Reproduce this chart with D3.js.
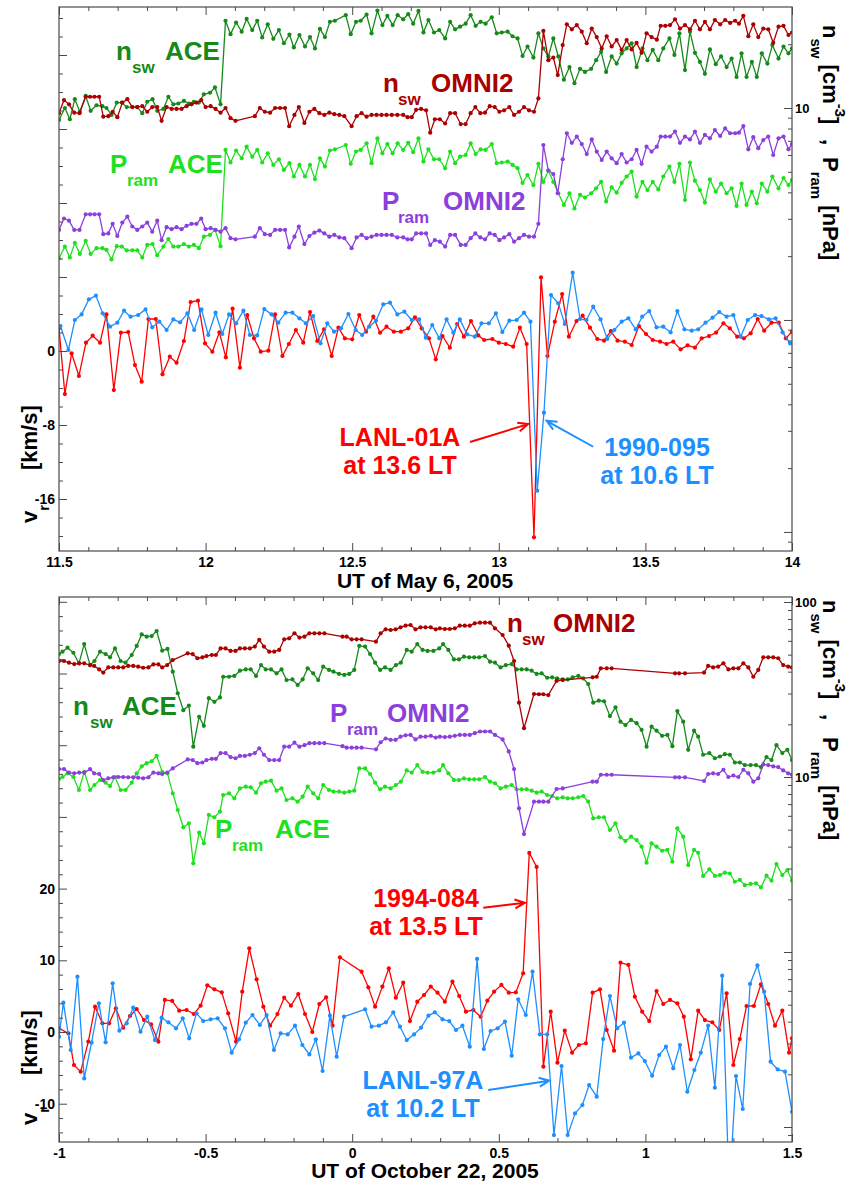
<!DOCTYPE html>
<html>
<head>
<meta charset="utf-8">
<script src="https://cdn.jsdelivr.net/npm/d3@7"></script>
<style>
  body { margin: 0; background: #fff; }
  svg { display: block; }
  text { font-family: "Liberation Sans", Arial, Helvetica, sans-serif; font-weight: bold; }
</style>
</head>
<body>
<svg id="chart" width="848" height="1186"></svg>
<script>
// ---------------- May 6, 2005 (upper panel) ----------------
const aceTimeMay = [11.500,11.520,11.537,11.554,11.571,11.591,11.608,11.628,11.648,11.662,
11.679,11.697,11.714,11.731,11.750,11.767,11.784,11.801,11.819,11.835,
11.856,11.873,11.890,11.907,11.926,11.943,11.960,11.977,11.994,12.015,
12.032,12.051,12.068,12.085,12.104,12.123,12.140,12.159,12.176,12.193,
12.212,12.231,12.250,12.267,12.286,12.301,12.320,12.339,12.356,12.373,
12.390,12.407,12.424,12.441,12.478,12.495,12.513,12.529,12.549,12.566,
12.586,12.603,12.620,12.638,12.655,12.674,12.691,12.708,12.726,12.743,
12.760,12.779,
12.797,12.817,12.834,12.851,12.868,12.887,12.904,12.921,12.938,12.955,
12.976,12.993,13.010,13.030,13.047,13.064,13.081,13.098,13.118,13.135,
13.152,13.169,13.186,13.203,13.222,13.241,13.258,13.277,13.294,13.315,
13.332,13.349,13.366,13.385,13.402,13.419,13.436,13.453,13.470,13.490,
13.507,13.525,13.544,13.561,13.582,13.599,13.616,13.635,13.652,13.669,
13.686,13.703,13.720,13.740,13.758,13.777,13.794,13.811,13.828,13.845,
13.863,13.880,13.897,13.916,13.933,13.954,13.971,13.988,14.000];

const nswAceMay = [8.78,10.0,8.85,11.0,9.6,11.4,9.7,10.3,10.2,10.0,
9.27,10.6,10.6,10.1,10.1,10.1,9.45,10.7,11.0,9.7,
9.9,11.3,10.4,10.5,10.8,10.5,10.7,10.6,11.6,11.8,
12.5,10.4,25.8,22.3,25.3,22.9,26.3,23.3,25.8,21.5,
24.8,21.2,23.3,20.2,22.2,19.3,22.1,19.5,21.6,19.1,
23.6,21.6,25.5,25.8,27.4,22.3,25.5,25.8,27.6,22.5,
28.8,24.6,27.2,24.6,27.4,26.2,27.7,25.0,28.7,22.7,
26.0,22.7,
23.3,21.3,25.5,23.5,24.2,25.0,27.4,24.4,25.5,25.0,
26.8,22.5,22.7,22.9,21.8,21.3,17.6,19.5,17.3,22.5,
19.1,17.5,21.3,17.5,13.6,15.6,13.1,15.3,14.8,15.3,
16.8,18.4,14.8,17.5,16.2,18.1,19.1,20.2,15.6,19.1,
16.8,18.8,16.8,19.1,21.3,17.8,22.5,15.1,22.9,18.2,
16.5,14.5,18.9,16.1,17.5,15.6,17.1,14.0,18.1,14.0,
16.5,14.0,18.1,16.2,19.8,17.1,19.5,18.1,19.1];

const pramAceMay = [1.95,2.22,1.97,2.31,2.05,2.36,2.05,2.18,2.18,2.14,
1.93,2.23,2.22,2.13,2.13,2.13,1.97,2.26,2.28,2.02,
2.22,2.41,2.22,2.22,2.28,2.22,2.26,2.18,2.47,2.52,
2.66,2.23,6.34,5.53,6.30,5.79,6.57,5.89,6.34,5.53,
6.11,5.39,5.73,5.10,5.49,4.75,5.39,4.75,5.39,4.62,
5.79,5.29,6.30,6.38,6.69,5.45,6.23,6.34,6.81,5.49,
7.19,6.11,6.76,6.11,6.81,6.34,6.85,6.19,7.19,5.59,
6.38,5.73,
5.73,5.20,6.23,5.49,5.89,6.00,6.81,6.06,6.38,6.34,
6.76,5.49,5.53,5.59,5.39,5.20,4.43,4.83,4.33,5.45,
4.48,5.07,4.48,3.96,3.49,3.96,3.36,3.89,3.78,3.96,
4.18,4.48,3.62,4.22,3.99,4.43,4.75,5.01,3.82,4.48,
4.10,4.48,4.13,4.75,5.29,4.48,5.45,3.68,5.53,4.54,
4.10,3.58,4.60,4.03,4.40,3.96,4.18,3.45,4.40,3.49,
4.03,3.55,4.40,4.03,4.75,4.18,4.67,4.33,4.57];

const omniTimeMay = [11.500,11.517,11.534,11.552,11.570,11.591,11.606,11.621,11.637,11.651,
11.668,11.683,11.699,11.716,11.733,11.750,11.767,11.784,11.801,11.818,
11.835,11.850,11.867,11.884,11.901,11.918,11.935,11.952,11.969,11.985,
12.000,12.017,12.034,12.051,12.068,12.085,12.102,12.168,12.185,12.202,
12.220,12.237,12.254,12.271,12.285,12.303,12.318,12.337,12.354,12.371,
12.388,12.405,12.422,12.439,12.456,12.473,12.498,12.515,12.532,12.549,
12.566,12.583,12.600,12.617,12.635,12.654,12.674,12.689,12.703,12.718,
12.735,12.752,12.766,12.782,
12.799,12.817,12.834,12.851,12.870,12.887,12.904,12.920,12.937,12.953,
12.969,12.986,13.002,13.018,13.036,13.052,13.069,13.086,13.103,13.120,
13.135,13.152,13.169,13.186,13.201,13.218,13.232,13.249,13.266,13.283,
13.300,13.317,13.334,13.351,13.368,13.385,13.402,13.419,13.436,13.453,
13.470,13.487,13.504,13.521,13.539,13.552,13.568,13.584,13.601,13.618,
13.635,13.652,13.669,13.686,13.703,13.720,13.737,13.755,13.772,13.789,
13.806,13.819,13.834,13.851,13.868,13.885,13.902,13.919,13.936,13.954,
13.971,13.988,14.000];

const nswOmniMay = [9.45,10.9,10.4,9.5,9.45,11.3,11.3,11.3,11.3,9.1,
9.15,9.6,9.05,10.6,11.0,10.1,10.1,10.2,9.6,10.1,
10.1,8.7,10.1,9.9,9.9,9.9,10.2,10.4,10.6,10.9,
10.1,10.2,9.9,9.5,10.0,8.95,8.7,9.15,10.0,9.6,
9.5,10.0,10.0,10.0,8.2,9.27,10.1,8.5,9.6,9.9,
9.45,9.27,9.5,9.35,9.27,9.15,8.2,9.15,9.45,9.1,
9.27,9.27,9.27,9.27,9.27,9.27,9.27,9.05,9.05,9.8,
9.9,9.75,7.65,8.85,
8.85,8.45,9.45,9.45,8.4,8.4,9.45,10.1,9.45,9.5,
10.2,10.1,9.6,9.75,10.1,9.27,9.6,10.1,9.75,9.6,
11.1,23.1,16.8,17.3,14.3,19.8,24.8,23.5,24.6,22.9,
20.2,23.7,21.6,19.1,21.8,19.5,20.9,18.8,20.9,18.9,
20.3,18.2,22.5,21.6,21.0,24.4,24.4,24.6,26.2,23.7,
24.6,23.5,25.8,23.5,25.5,23.5,26.0,24.8,26.0,25.2,
25.8,25.0,27.2,21.8,24.8,21.6,23.7,23.5,20.3,24.2,
24.4,22.1,22.7];

const pramOmniMay = [2.66,3.01,2.94,2.66,2.66,3.15,3.15,3.15,3.15,2.54,
2.56,2.84,2.49,2.88,3.07,2.76,2.66,2.76,2.88,2.61,
2.94,2.38,2.74,2.68,2.74,2.68,2.78,2.84,2.84,3.01,
2.68,2.71,2.66,2.61,2.71,2.43,2.40,2.47,2.71,2.54,
2.52,2.66,2.66,2.66,2.20,2.47,2.76,2.28,2.49,2.58,
2.64,2.56,2.47,2.52,2.45,2.43,2.18,2.45,2.52,2.43,
2.47,2.52,2.52,2.52,2.52,2.45,2.45,2.40,2.40,2.56,
2.56,2.56,2.26,2.38,
2.34,2.22,2.52,2.52,2.26,2.26,2.43,2.56,2.45,2.40,
2.56,2.52,2.38,2.45,2.54,2.34,2.43,2.52,2.47,2.47,
2.84,6.69,5.07,4.88,3.96,5.73,7.60,6.85,7.33,6.76,
6.06,7.11,6.23,5.69,6.23,5.79,5.49,6.06,5.53,5.73,
6.34,5.45,6.57,6.23,6.57,7.33,7.33,7.33,7.74,6.85,
7.33,7.11,7.74,6.85,7.46,7.19,7.87,7.38,8.01,7.60,
7.60,7.65,8.22,6.38,7.28,6.46,7.06,7.33,6.00,7.19,
7.33,6.38,6.76];

const lanl01aTime = [11.500,11.520,11.543,11.568,11.592,11.615,11.640,11.662,11.687,11.711,
11.736,11.759,11.782,11.805,11.830,11.853,11.878,11.901,11.926,11.949,
11.974,11.998,12.023,12.047,12.069,12.092,12.117,12.142,12.165,12.188,
12.214,12.237,12.262,12.284,12.308,12.333,12.356,12.381,12.404,12.430,
12.453,12.475,12.500,12.524,12.547,12.572,12.595,12.617,12.642,12.666,
12.691,12.714,12.737,12.762,12.785,
12.808,12.833,12.858,12.881,12.905,12.930,12.950,12.978,13.000,13.024,
13.049,13.072,13.095,13.120,13.144,13.166,13.191,13.216,13.239,13.265,
13.286,13.311,13.336,13.359,13.382,13.405,13.430,13.453,13.478,13.502,
13.525,13.550,13.572,13.595,13.620,13.644,13.669,13.692,13.717,13.741,
13.766,13.788,13.813,13.836,13.859,13.883,13.905,13.930,13.955,13.979,14.000];

const lanl01aVr = [2.45,-4.65,-0.25,-2.70,0.90,1.66,0.90,3.96,-4.22,1.98,
2.05,-1.51,-3.32,3.46,3.46,-2.52,-0.61,-1.26,1.08,5.30,
5.44,0.83,-0.07,2.02,-0.68,4.58,-1.80,3.89,1.37,-0.07,
0.04,3.96,-0.54,0.76,2.27,0.90,4.22,1.08,2.34,-0.54,
2.52,1.37,1.26,3.89,2.09,3.71,1.98,2.63,2.09,2.09,
2.45,3.64,2.45,1.37,-0.90,
1.62,0.36,2.92,1.55,3.24,1.69,1.19,1.30,0.90,0.76,
0.47,2.52,0.76,-20.14,7.96,-0.54,3.17,6.16,1.55,3.24,
3.82,2.52,1.30,1.12,2.16,1.12,1.01,0.65,2.70,1.84,
1.19,1.01,0.76,1.01,0.18,0.61,0.36,1.37,1.62,1.98,
2.99,2.45,1.55,1.37,1.91,3.46,2.20,3.06,3.06,1.37,2.09];

const lanl1990Time = [11.505,11.532,11.554,11.577,11.602,11.626,11.649,11.674,11.699,11.722,
11.744,11.770,11.795,11.818,11.842,11.867,11.890,11.913,11.938,11.961,
11.986,12.009,12.034,12.057,12.080,12.104,12.129,12.151,12.176,12.200,
12.225,12.248,12.273,12.296,12.320,12.342,12.367,12.392,12.415,12.438,
12.462,12.487,12.512,12.534,12.558,12.581,12.606,12.629,12.654,12.678,
12.703,12.728,12.751,12.773,12.797,
12.822,12.845,12.867,12.892,12.918,12.941,12.966,12.990,13.012,13.036,
13.061,13.086,13.108,13.131,13.154,13.178,13.203,13.225,13.252,13.277,
13.299,13.322,13.347,13.370,13.394,13.419,13.442,13.467,13.489,13.513,
13.538,13.561,13.586,13.609,13.633,13.658,13.680,13.705,13.729,13.752,
13.777,13.800,13.825,13.849,13.874,13.896,13.921,13.944,13.968,13.993];

const lanl1990Vr = [2.70,0.11,3.35,3.96,5.59,5.98,4.07,2.63,3.06,4.36,
3.71,3.89,4.50,2.56,3.17,2.27,3.42,3.10,4.07,2.27,
4.50,1.73,4.14,1.84,3.96,2.99,4.36,1.73,1.69,4.54,
3.96,3.06,4.14,4.14,3.53,2.99,3.78,0.83,2.99,2.09,
2.45,4.00,2.27,1.73,2.63,3.28,5.05,5.23,3.96,4.25,
3.35,3.42,1.44,2.81,1.37,
3.42,1.98,3.42,1.80,1.55,2.99,2.99,4.07,2.05,3.28,
3.35,4.14,3.17,-15.10,-6.67,6.05,5.15,2.92,8.47,3.46,
3.35,4.79,3.42,1.30,2.27,3.17,3.53,2.34,3.71,4.32,
2.56,2.63,2.02,4.32,2.34,2.20,2.34,3.06,3.60,4.22,
3.71,3.89,1.55,3.35,3.89,3.78,3.42,3.53,2.02,0.83];

// ---------------- October 22, 2005 (lower panel) ----------------
const aceTimeOct = [-1.000,-0.988,-0.971,-0.951,-0.932,-0.914,-0.894,-0.879,-0.860,-0.841,
-0.826,-0.809,-0.790,-0.773,-0.752,-0.735,-0.718,-0.701,-0.684,-0.667,
-0.648,-0.630,-0.612,-0.595,-0.576,-0.557,-0.542,-0.522,-0.506,-0.489,
-0.470,-0.451,-0.440,-0.420,-0.402,-0.383,-0.363,-0.346,-0.328,-0.311,
-0.295,-0.277,-0.258,-0.241,-0.224,-0.204,-0.186,-0.169,-0.152,-0.133,
-0.116,-0.099,-0.079,-0.064,-0.045,-0.027,-0.010,0.007,0.024,0.044,
0.061,0.078,0.095,0.112,0.131,0.149,0.166,0.186,0.203,0.222,
0.240,0.257,0.277,0.297,
0.310,0.328,0.347,0.364,0.381,0.399,0.416,0.433,0.453,0.470,
0.487,0.506,0.524,0.544,0.561,0.578,0.595,0.612,0.629,0.646,
0.665,0.682,0.699,0.718,0.735,0.752,0.771,0.788,0.805,0.822,
0.841,0.859,0.879,0.898,0.915,0.932,0.951,0.970,0.987,1.004,
1.021,1.038,1.057,1.075,1.092,1.109,1.129,1.146,1.166,1.180,
1.197,1.218,1.237,1.254,1.271,1.288,1.305,1.322,1.339,1.359,
1.377,1.394,1.413,1.430,1.447,1.467,1.484,1.500];

const nswAceOct = [50.4,52.0,54.8,51.3,44.6,57.5,43.6,46.0,52.0,50.4,
48.3,54.3,46.0,45.0,49.8,56.1,65.3,63.4,63.9,68.3,
52.7,53.9,40.0,30.1,24.1,25.6,14.9,22.1,19.6,28.2,
26.9,28.5,37.4,37.4,37.8,40.5,41.2,41.2,37.8,43.6,
41.2,41.2,39.1,41.2,35.8,36.1,33.6,36.1,41.8,39.1,
35.8,42.7,40.9,40.0,38.8,38.3,38.8,40.9,56.1,55.6,
50.4,45.0,40.9,42.3,40.9,43.6,45.0,53.2,52.0,57.5,
53.2,52.5,52.5,54.3,
57.5,53.2,47.0,47.0,48.7,48.3,48.3,48.3,49.1,45.6,
45.0,42.3,43.6,44.2,41.2,41.2,41.2,40.5,38.8,39.1,
36.9,37.1,36.6,36.1,36.1,37.1,37.8,36.6,34.0,26.6,
27.3,27.1,22.3,25.0,20.7,19.8,21.2,20.3,18.6,14.9,
19.4,18.4,17.2,17.4,15.0,23.8,20.7,14.3,18.4,17.0,
13.4,13.7,12.8,13.1,13.5,13.4,12.1,12.1,11.7,11.7,
11.7,11.4,13.0,12.5,15.2,13.7,14.3,12.5];

const pramAceOct = [9.74,10.0,10.5,10.0,8.43,10.7,8.43,9.00,9.61,9.28,
8.88,10.0,8.43,8.43,9.28,10.5,11.5,12.0,12.3,13.2,
10.7,10.5,8.07,6.48,5.16,5.43,3.21,4.81,4.18,6.07,
5.88,6.34,7.89,8.07,7.55,8.61,8.81,8.73,8.14,9.20,
9.40,9.53,8.35,8.61,7.39,7.55,7.23,7.72,8.81,8.07,
7.55,9.00,8.43,8.25,8.25,8.14,8.25,8.35,11.2,11.2,
10.4,9.28,8.50,8.81,8.61,9.00,9.40,10.9,10.6,11.7,
10.7,10.6,10.6,10.9,
11.7,10.5,9.61,9.61,9.83,9.70,9.70,9.70,10.0,9.40,
9.20,8.61,8.81,9.00,8.50,8.50,8.50,8.35,8.14,8.25,
7.89,7.79,7.55,7.65,7.55,7.55,7.65,7.79,7.23,5.80,
5.88,5.88,4.98,5.43,4.52,4.31,4.56,4.36,4.00,3.24,
4.18,4.00,3.79,3.83,3.28,5.09,4.56,3.14,3.83,3.69,
2.72,2.97,2.72,2.75,2.84,2.81,2.52,2.58,2.41,2.45,
2.47,2.34,2.73,2.56,3.18,2.75,2.94,2.56];

const omniTimeOct = [-1.000,-0.983,-0.966,-0.948,-0.931,-0.914,-0.894,-0.880,-0.863,-0.849,
-0.832,-0.815,-0.798,-0.781,-0.764,-0.747,-0.730,-0.713,-0.695,-0.678,
-0.661,-0.648,-0.631,-0.612,-0.561,-0.544,-0.528,-0.511,-0.497,-0.479,
-0.465,-0.449,-0.432,-0.415,-0.398,-0.383,-0.366,-0.349,-0.332,-0.317,
-0.301,-0.283,-0.266,-0.249,-0.232,-0.215,-0.197,-0.180,-0.163,-0.146,
-0.129,-0.112,-0.095,-0.033,-0.019,-0.002,0.015,0.032,0.081,0.097,
0.114,0.131,0.148,0.165,0.182,0.199,0.216,0.233,0.250,0.268,
0.285,0.299,
0.316,0.333,0.350,0.367,0.384,0.401,0.418,0.436,0.453,0.470,
0.487,0.513,0.534,0.552,0.569,0.586,0.620,0.637,0.652,0.669,
0.697,0.718,0.820,0.834,0.848,0.868,0.885,1.101,1.115,1.135,
1.200,1.214,1.231,1.248,1.266,1.283,1.300,1.317,1.334,1.351,
1.368,1.385,1.402,1.419,1.436,1.453,1.470,1.487,1.500];

const nswOmniOct = [46.0,46.0,45.0,44.2,44.6,44.6,43.6,43.1,41.2,39.5,
42.3,42.3,42.3,42.3,43.1,43.1,42.7,42.1,42.3,44.0,
44.0,42.3,43.6,46.6,50.9,50.4,47.7,48.3,49.1,49.8,
49.8,54.3,54.3,52.5,52.5,54.3,54.3,54.3,55.6,60.7,
55.6,52.0,52.0,53.2,61.2,62.0,66.2,62.6,63.4,66.2,
66.2,66.2,66.2,63.4,63.4,61.2,61.2,61.2,59.3,66.2,
69.8,69.2,69.8,71.7,73.2,73.9,69.8,71.7,71.7,71.7,
69.8,70.7,
70.1,70.1,70.7,73.2,73.2,73.2,75.5,76.2,76.2,76.2,
70.7,64.8,56.3,46.0,26.6,19.0,29.8,29.7,29.7,29.4,
35.4,35.8,37.1,37.4,41.8,41.8,41.8,39.1,39.1,39.1,
39.5,43.1,42.3,42.7,44.6,41.2,41.8,41.8,44.6,42.3,
37.4,40.9,48.3,48.3,48.3,47.7,43.6,42.7,42.3];

const pramOmniOct = [11.1,11.1,10.6,10.5,10.6,10.6,11.1,10.5,10.4,9.61,
9.83,9.96,10.0,10.0,9.96,9.96,9.91,9.83,9.96,10.6,
10.5,10.4,10.6,11.2,12.6,12.5,12.0,12.1,12.5,12.7,
12.7,13.7,13.7,13.0,12.8,13.2,13.2,13.4,13.7,14.6,
13.4,12.5,12.5,12.5,14.9,14.9,15.7,14.9,15.2,15.6,
15.6,15.6,15.6,15.0,14.7,14.7,14.7,14.7,14.4,15.8,
16.6,16.3,16.3,17.0,17.3,17.4,16.4,17.0,17.0,17.2,
16.8,17.0,
16.9,17.0,17.2,17.4,17.4,17.4,17.8,18.2,18.2,18.2,
17.4,16.4,14.0,11.1,6.62,4.72,7.23,7.23,7.23,7.23,
8.54,8.61,9.40,9.40,10.3,10.3,10.3,9.96,9.96,9.96,
9.49,10.4,10.5,10.4,11.0,10.0,10.2,10.0,11.0,10.5,
9.40,9.83,11.8,11.7,11.5,11.4,10.9,10.5,10.3];

const lanl1994Time = [-1.000,-0.968,-0.949,-0.926,-0.900,-0.877,-0.852,-0.829,-0.806,-0.781,
-0.758,-0.735,-0.710,-0.686,-0.661,-0.639,-0.614,-0.590,-0.565,-0.540,
-0.517,-0.494,-0.470,-0.445,-0.423,-0.396,-0.375,-0.351,-0.326,-0.303,
-0.280,-0.255,-0.232,-0.209,-0.184,-0.161,-0.136,-0.112,-0.089,-0.067,
-0.042,0.032,0.055,0.078,0.103,0.125,0.149,0.174,0.197,0.222,
0.245,0.268,0.291,
0.316,0.342,0.365,0.388,0.413,0.438,0.461,0.484,0.509,0.534,
0.558,0.583,0.604,0.629,0.652,0.677,0.700,0.725,0.750,0.773,
0.797,0.820,0.845,0.868,0.893,0.915,0.942,0.964,0.989,1.013,
1.038,1.061,1.084,1.109,1.131,1.155,1.180,1.203,1.228,1.252,
1.277,1.300,1.322,1.345,1.370,1.394,1.419,1.442,1.467,1.490,1.500];

const lanl1994Vr = [0.51,-0.19,-4.60,-5.53,-1.35,3.53,1.21,1.21,3.30,0.60,
2.23,3.21,1.67,1.07,-1.35,4.47,4.33,2.98,3.07,2.51,
3.67,6.51,5.95,5.53,2.60,-1.35,5.63,11.67,7.35,3.53,
0.88,2.51,4.79,3.67,5.30,2.51,0.00,3.91,4.84,0.88,
10.42,8.42,6.23,3.53,6.33,8.88,4.79,6.88,1.53,4.23,
5.16,6.33,5.49,
4.23,7.02,5.02,2.84,3.07,2.14,4.37,5.63,6.56,5.49,
5.53,8.19,24.98,23.02,-4.84,2.84,-4.28,0.19,-2.88,-1.81,
-1.58,5.49,5.95,0.28,-2.60,9.67,9.35,4.93,2.84,1.53,
5.72,3.91,4.47,4.00,2.14,-3.81,2.98,1.67,1.35,0.28,
5.40,-4.60,-0.98,3.63,3.63,6.65,3.91,0.88,2.98,-2.88,-0.88];

const lanl97aTime = [-1.000,-0.985,-0.960,-0.937,-0.914,-0.889,-0.864,-0.841,-0.817,-0.794,
-0.769,-0.747,-0.722,-0.699,-0.673,-0.650,-0.627,-0.601,-0.578,-0.556,
-0.531,-0.508,-0.483,-0.459,-0.434,-0.411,-0.386,-0.363,-0.340,-0.315,
-0.292,-0.267,-0.244,-0.220,-0.195,-0.170,-0.146,-0.124,-0.101,-0.076,
-0.053,-0.028,0.044,0.066,0.091,0.115,0.140,0.163,0.186,0.211,
0.235,0.260,0.282,
0.308,0.331,0.354,0.376,0.401,0.426,0.449,0.472,0.496,0.521,
0.544,0.566,0.592,0.615,0.640,0.665,0.688,0.714,0.735,0.760,
0.785,0.808,0.834,0.856,0.879,0.904,0.927,0.951,0.976,0.998,
1.023,1.047,1.070,1.095,1.118,1.143,1.167,1.189,1.214,1.237,
1.262,1.286,1.309,1.332,1.357,1.382,1.405,1.427,1.451,1.476,1.500];

const lanl97aVr = [-0.65,4.09,-2.51,7.72,-6.47,-1.49,4.00,-1.44,6.79,0.19,
1.21,3.40,0.05,2.14,-1.12,2.00,1.35,0.51,1.91,-0.88,
2.60,1.53,1.77,1.91,0.51,-2.88,-1.02,1.30,2.37,0.98,
2.37,-2.51,-0.19,-0.33,0.88,-1.81,-3.12,-1.02,-5.44,2.28,
-3.44,2.14,3.16,0.74,0.88,1.35,2.74,0.74,-1.12,-0.33,
0.60,2.28,2.74,
1.77,1.53,0.28,0.88,-2.05,10.19,-2.37,0.14,0.51,1.44,
-3.30,4.56,2.37,8.42,-0.33,-0.33,-14.37,-4.74,-14.37,-11.35,
-10.19,-7.40,-9.02,-0.98,5.02,0.51,1.30,-3.58,-2.98,-4.05,
-6.09,-3.21,-2.05,-5.07,-1.81,-8.33,-5.30,-2.88,0.88,-7.77,
7.86,-22.5,-6.14,-10.74,6.70,9.30,5.63,-4.14,-5.21,-5.53,-11.12];

// ---------------- drawing ----------------
const C = {
  nAce: '#16891a',
  nOmni: '#aa0000',
  pAce: '#1fe01f',
  pOmni: '#8b3fdc',
  red: '#ff0000',
  blue: '#1e8fff',
  axis: '#4a4a4a'
};

const svg = d3.select('#chart');
const X0 = 59, X1 = 792;

function fmt(d) { return String(+d.toFixed(1)); }

function drawPanel(p) {
  const g = svg.append('g');
  const x = d3.scaleLinear().domain(p.xDomain).range([X0, X1]);
  const yv = d3.scaleLinear().domain(p.vrDomain).range([p.bottom, p.top]);
  const yl = d3.scaleLog().domain(p.logDomain).range([p.bottom, p.top]);

  const clipId = 'clip-' + p.id;
  svg.append('clipPath').attr('id', clipId)
    .append('rect').attr('x', X0).attr('y', p.top).attr('width', X1 - X0).attr('height', p.bottom - p.top);
  const plot = g.append('g').attr('clip-path', `url(#${clipId})`);

  p.curves.forEach(c => {
    const ys = c.log ? yl : yv;
    const data = d3.zip(c.t, c.v);
    const line = d3.line().x(d => x(d[0])).y(d => ys(d[1]));
    plot.append('path').attr('d', line(data))
      .attr('fill', 'none').attr('stroke', c.color).attr('stroke-width', 1.3).attr('stroke-linejoin', 'round');
    plot.append('g').selectAll('circle').data(data).join('circle')
      .attr('cx', d => x(d[0])).attr('cy', d => ys(d[1])).attr('r', 2.1).attr('fill', c.color);
  });

  // axis ticks
  const nX = Math.round((p.xDomain[1] - p.xDomain[0]) / 0.1);
  const xAll = d3.range(nX + 1).map(i => +(p.xDomain[0] + i * 0.1).toFixed(2));
  const xMajor = xAll.filter((d, i) => i % 5 === 0);
  const xMinor = xAll.filter((d, i) => i % 5 !== 0);

  const styleAxis = sel => {
    sel.select('.domain').remove();
    sel.selectAll('line').attr('stroke', C.axis).attr('stroke-width', 1);
    sel.attr('font-family', null).attr('font-size', 14).attr('font-weight', 'bold');
    sel.selectAll('text').attr('fill', '#000');
  };

  g.append('g').attr('transform', `translate(0,${p.bottom})`)
    .call(d3.axisBottom(x).tickValues(xMajor).tickSize(-8).tickPadding(6).tickFormat(fmt)).call(styleAxis);
  g.append('g').attr('transform', `translate(0,${p.bottom})`)
    .call(d3.axisBottom(x).tickValues(xMinor).tickSize(-4).tickFormat('')).call(styleAxis);
  g.append('g').attr('transform', `translate(0,${p.top})`)
    .call(d3.axisTop(x).tickValues(xMajor).tickSize(-8).tickFormat('')).call(styleAxis);
  g.append('g').attr('transform', `translate(0,${p.top})`)
    .call(d3.axisTop(x).tickValues(xMinor).tickSize(-4).tickFormat('')).call(styleAxis);

  // left: radial velocity
  const vMin = Math.ceil(p.vrDomain[0] / 2) * 2, vMax = Math.floor(p.vrDomain[1] / 2) * 2;
  const vAll = d3.range(vMin, vMax + 1, 2);
  const vMajor = vAll.filter(d => d % p.vrMajor === 0);
  const vMinor = vAll.filter(d => d % p.vrMajor !== 0);
  g.append('g').attr('transform', `translate(${X0},0)`)
    .call(d3.axisLeft(yv).tickValues(vMajor).tickSize(-8).tickPadding(4)
      .tickFormat(d => p.vrLabels.includes(d) ? String(d) : '')).call(styleAxis);
  g.append('g').attr('transform', `translate(${X0},0)`)
    .call(d3.axisLeft(yv).tickValues(vMinor).tickSize(-4).tickFormat('')).call(styleAxis);

  // right: logarithmic density / pressure
  const logMajor = [], logMinor = [];
  [0.01, 0.1, 1, 10, 100].forEach(dec => {
    for (let k = 1; k <= 9; k++) {
      const v = +(k * dec).toPrecision(3);
      if (v >= p.logDomain[0] && v <= p.logDomain[1]) (k === 1 ? logMajor : logMinor).push(v);
    }
  });
  g.append('g').attr('transform', `translate(${X1},0)`)
    .call(d3.axisRight(yl).tickValues(logMajor).tickSize(-8).tickPadding(3)
      .tickFormat(d => p.logLabels.includes(d) ? String(d) : '')).call(styleAxis)
    .attr('font-size', 13);
  g.append('g').attr('transform', `translate(${X1},0)`)
    .call(d3.axisRight(yl).tickValues(logMinor).tickSize(-4).tickFormat('')).call(styleAxis);

  // frame
  g.append('rect').attr('x', X0).attr('y', p.top).attr('width', X1 - X0).attr('height', p.bottom - p.top)
    .attr('fill', 'none').attr('stroke', C.axis).attr('stroke-width', 1.2);

  // x title
  g.append('text').attr('x', 425).attr('y', p.titleY).attr('text-anchor', 'middle')
    .attr('font-size', 21).text(p.title);

  // left title: v_r [km/s]
  const lt = g.append('text').attr('transform', `translate(37,${p.vLabelY}) rotate(-90)`).attr('font-size', 22);
  lt.append('tspan').text('v');
  lt.append('tspan').attr('font-size', 15).attr('dy', 12).text('r');
  g.append('text').attr('transform', `translate(37,${p.kmsY}) rotate(-90)`).attr('font-size', 22).text('[km/s]');

  // right title: n_sw [cm^-3] , P_ram [nPa]
  const rt = g.append('text').attr('transform', `translate(823,${p.rLabelY}) rotate(90)`).attr('font-size', 22);
  rt.append('tspan').text('n');
  rt.append('tspan').attr('font-size', 15).attr('dy', 12).text('sw');
  rt.append('tspan').attr('dy', -12).text('\u00a0[cm');
  rt.append('tspan').attr('font-size', 15).attr('dy', -12).text('-3');
  rt.append('tspan').attr('dy', 12).text(']');
  g.append('text').attr('transform', `translate(823,${p.commaY}) rotate(90)`).attr('font-size', 22).text(',');
  const rt2 = g.append('text').attr('transform', `translate(823,${p.pLabelY}) rotate(90)`).attr('font-size', 22);
  rt2.append('tspan').text('P');
  rt2.append('tspan').attr('font-size', 15).attr('dy', 12).text('ram');
  rt2.append('tspan').attr('dy', -12).text('\u00a0[nPa]');

  // series labels
  p.labels.forEach(l => {
    g.append('text').attr('x', l.x).attr('y', l.y).attr('font-size', 26).attr('fill', l.color).text(l.main);
    g.append('text').attr('x', l.sx).attr('y', l.y + 13).attr('font-size', 17).attr('fill', l.color).text(l.sub);
    g.append('text').attr('x', l.tx).attr('y', l.y).attr('font-size', 26).attr('fill', l.color).text(l.tail);
  });

  // spacecraft annotations with arrows
  p.notes.forEach(n => {
    n.lines.forEach((s, i) => {
      g.append('text').attr('x', n.x).attr('y', n.y - 1 + i * 28).attr('text-anchor', 'middle')
        .attr('font-size', 25).attr('fill', n.color).text(s);
    });
    const x1 = x(n.from[0]), y1 = yv(n.from[1]), x2 = x(n.to[0]), y2 = yv(n.to[1]);
    const a = Math.atan2(y2 - y1, x2 - x1), L = 11, sp = 0.42;
    g.append('path')
      .attr('d', `M${x1},${y1}L${x2},${y2}M${x2 - L * Math.cos(a - sp)},${y2 - L * Math.sin(a - sp)}L${x2},${y2}L${x2 - L * Math.cos(a + sp)},${y2 - L * Math.sin(a + sp)}`)
      .attr('fill', 'none').attr('stroke', n.color).attr('stroke-width', 2);
  });
}

drawPanel({
  id: 'may', top: 7, bottom: 551,
  xDomain: [11.5, 14],
  vrDomain: [-21.62, 37.19], vrMajor: 8, vrLabels: [0, -8, -16],
  logDomain: [0.0813, 29.95], logLabels: [10],
  title: 'UT of May 6, 2005', titleY: 588,
  vLabelY: 523, kmsY: 470, rLabelY: 25, commaY: 139, pLabelY: 157,
  curves: [
    { t: aceTimeMay, v: nswAceMay, log: true, color: C.nAce },
    { t: omniTimeMay, v: nswOmniMay, log: true, color: C.nOmni },
    { t: aceTimeMay, v: pramAceMay, log: true, color: C.pAce },
    { t: omniTimeMay, v: pramOmniMay, log: true, color: C.pOmni },
    { t: lanl01aTime, v: lanl01aVr, color: C.red },
    { t: lanl1990Time, v: lanl1990Vr, color: C.blue }
  ],
  labels: [
    { main: 'n', sub: 'sw', tail: 'ACE', x: 116, sx: 132, tx: 165, y: 60, color: C.nAce },
    { main: 'n', sub: 'sw', tail: 'OMNI2', x: 383, sx: 398, tx: 431, y: 92, color: C.nOmni },
    { main: 'P', sub: 'ram', tail: 'ACE', x: 110, sx: 127, tx: 168, y: 173, color: C.pAce },
    { main: 'P', sub: 'ram', tail: 'OMNI2', x: 382, sx: 398, tx: 443, y: 210, color: C.pOmni }
  ],
  notes: [
    { lines: ['LANL-01A', 'at 13.6 LT'], x: 400, y: 447, color: C.red, from: [12.902, -9.84], to: [13.100, -7.9] },
    { lines: ['1990-095', 'at 10.6 LT'], x: 657, y: 457, color: C.blue, from: [13.322, -10.35], to: [13.163, -7.54] }
  ]
});

drawPanel({
  id: 'oct', top: 597, bottom: 1142,
  xDomain: [-1, 1.5],
  vrDomain: [-15.34, 60.67], vrMajor: 10, vrLabels: [20, 10, 0, -10],
  logDomain: [0.0821, 106.8], logLabels: [100, 10],
  title: 'UT of October 22, 2005', titleY: 1178,
  vLabelY: 1125, kmsY: 1075, rLabelY: 600, commaY: 714, pLabelY: 737,
  curves: [
    { t: aceTimeOct, v: nswAceOct, log: true, color: C.nAce },
    { t: omniTimeOct, v: nswOmniOct, log: true, color: C.nOmni },
    { t: aceTimeOct, v: pramAceOct, log: true, color: C.pAce },
    { t: omniTimeOct, v: pramOmniOct, log: true, color: C.pOmni },
    { t: lanl1994Time, v: lanl1994Vr, color: C.red },
    { t: lanl97aTime, v: lanl97aVr, color: C.blue }
  ],
  labels: [
    { main: 'n', sub: 'sw', tail: 'OMNI2', x: 507, sx: 522, tx: 553, y: 632, color: C.nOmni },
    { main: 'n', sub: 'sw', tail: 'ACE', x: 73, sx: 90, tx: 122, y: 715, color: C.nAce },
    { main: 'P', sub: 'ram', tail: 'OMNI2', x: 330, sx: 347, tx: 387, y: 722, color: C.pOmni },
    { main: 'P', sub: 'ram', tail: 'ACE', x: 215, sx: 232, tx: 275, y: 838, color: C.pAce }
  ],
  notes: [
    { lines: ['1994-084', 'at 13.5 LT'], x: 426, y: 908, color: C.red, from: [0.447, 17.34], to: [0.589, 18.03] },
    { lines: ['LANL-97A', 'at 10.2 LT'], x: 423, y: 1090, color: C.blue, from: [0.464, -8.09], to: [0.672, -6.79] }
  ]
});
</script>
</body>
</html>
